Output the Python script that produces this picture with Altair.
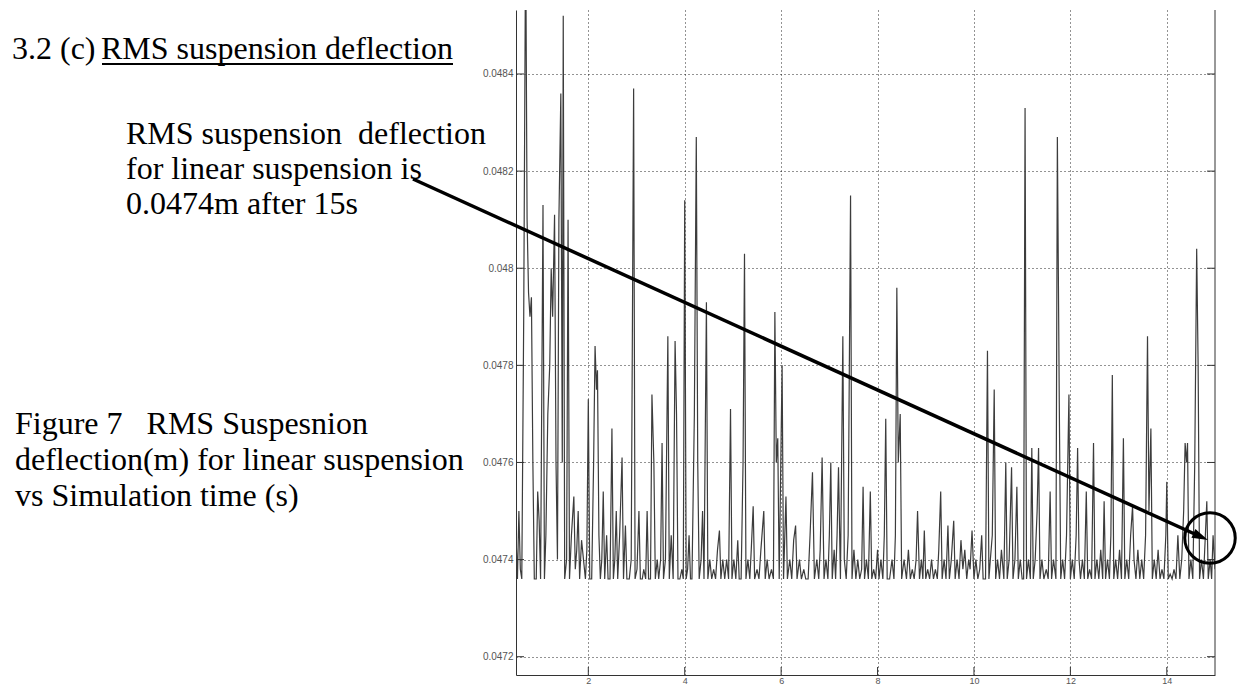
import altair as alt
import pandas as pd

time_s = [
    0.50, 0.53, 0.56, 0.59, 0.62, 0.66, 0.70, 0.73, 0.76, 0.79,
    0.82, 0.85, 0.88, 0.92, 0.95, 0.98, 1.01, 1.06, 1.09, 1.12,
    1.16, 1.20, 1.23, 1.26, 1.30, 1.33, 1.36, 1.39, 1.43, 1.46,
    1.48, 1.51, 1.55, 1.58, 1.61, 1.65, 1.70, 1.73, 1.76, 1.79,
    1.82, 1.86, 1.90, 1.94, 1.97, 2.00, 2.03, 2.07, 2.11, 2.14,
    2.17, 2.19, 2.22, 2.25, 2.28, 2.31, 2.34, 2.38, 2.41, 2.45,
    2.49, 2.52, 2.55, 2.58, 2.61, 2.65, 2.70, 2.73, 2.77, 2.80,
    2.85, 2.89, 2.94, 2.97, 3.01, 3.05, 3.08, 3.12, 3.15, 3.19,
    3.22, 3.25, 3.29, 3.32, 3.36, 3.39, 3.43, 3.46, 3.50, 3.53,
    3.56, 3.60, 3.65, 3.68, 3.72, 3.76, 3.80, 3.83, 3.86, 3.90,
    3.94, 3.97, 4.00, 4.03, 4.06, 4.09, 4.12, 4.15, 4.20, 4.24,
    4.27, 4.30, 4.34, 4.37, 4.40, 4.45, 4.48, 4.52, 4.56, 4.60,
    4.64, 4.68, 4.72, 4.75, 4.79, 4.83, 4.87, 4.91, 4.95, 4.98,
    5.02, 5.06, 5.10, 5.13, 5.17, 5.21, 5.24, 5.27, 5.31, 5.35,
    5.38, 5.42, 5.45, 5.50, 5.54, 5.58, 5.64, 5.67, 5.71, 5.75,
    5.80, 5.84, 5.87, 5.90, 5.93, 5.96, 6.02, 6.05, 6.10, 6.13,
    6.18, 6.22, 6.26, 6.30, 6.33, 6.38, 6.42, 6.47, 6.51, 6.56,
    6.60, 6.65, 6.69, 6.74, 6.78, 6.81, 6.85, 6.89, 6.93, 6.97,
    7.00, 7.03, 7.06, 7.10, 7.13, 7.16, 7.19, 7.23, 7.28, 7.31,
    7.35, 7.39, 7.44, 7.47, 7.51, 7.55, 7.59, 7.63, 7.67, 7.70,
    7.73, 7.77, 7.81, 7.85, 7.88, 7.92, 7.96, 8.00, 8.03, 8.07,
    8.11, 8.14, 8.17, 8.20, 8.25, 8.30, 8.34, 8.37, 8.40, 8.43,
    8.47, 8.50, 8.55, 8.60, 8.64, 8.68, 8.72, 8.76, 8.80, 8.83,
    8.87, 8.91, 8.94, 8.97, 9.00, 9.04, 9.08, 9.12, 9.16, 9.20,
    9.24, 9.27, 9.31, 9.34, 9.38, 9.42, 9.46, 9.49, 9.53, 9.58,
    9.61, 9.65, 9.69, 9.73, 9.77, 9.81, 9.85, 9.89, 9.92, 9.96,
    10.00, 10.04, 10.08, 10.12, 10.16, 10.19, 10.24, 10.28, 10.31, 10.34,
    10.38, 10.42, 10.45, 10.49, 10.53, 10.57, 10.62, 10.66, 10.69, 10.73,
    10.78, 10.81, 10.85, 10.89, 10.92, 10.96, 11.00, 11.03, 11.06, 11.09,
    11.13, 11.17, 11.20, 11.23, 11.27, 11.31, 11.34, 11.37, 11.41, 11.45,
    11.50, 11.54, 11.58, 11.61, 11.65, 11.70, 11.73, 11.77, 11.80, 11.84,
    11.88, 11.92, 11.97, 12.00, 12.04, 12.08, 12.12, 12.15, 12.18, 12.21,
    12.25, 12.29, 12.33, 12.36, 12.40, 12.44, 12.48, 12.51, 12.55, 12.59,
    12.63, 12.67, 12.70, 12.73, 12.77, 12.81, 12.84, 12.87, 12.90, 12.94,
    12.98, 13.02, 13.06, 13.10, 13.13, 13.17, 13.21, 13.25, 13.29, 13.32,
    13.36, 13.40, 13.44, 13.48, 13.52, 13.56, 13.60, 13.63, 13.67, 13.70,
    13.74, 13.78, 13.82, 13.86, 13.90, 13.94, 13.98, 14.00, 14.03, 14.07,
    14.11, 14.15, 14.19, 14.23, 14.27, 14.31, 14.35, 14.38, 14.41, 14.43,
    14.46, 14.50, 14.54, 14.58, 14.62, 14.65, 14.68, 14.72, 14.76, 14.80,
    14.83, 14.86, 14.90, 14.93, 14.96, 15.00,
]

rms_m = [
    0.04745, 0.04736, 0.04750, 0.04738, 0.04736, 0.04790, 0.04870, 0.04810, 0.04795, 0.04790,
    0.04794, 0.04760, 0.04736, 0.04736, 0.04754, 0.04748, 0.04736, 0.04813, 0.04736, 0.04745,
    0.04770, 0.04780, 0.04800, 0.04790, 0.04811, 0.04760, 0.04740, 0.04810, 0.04836, 0.04760,
    0.04852, 0.04736, 0.04740, 0.04810, 0.04736, 0.04745, 0.04753, 0.04738, 0.04742, 0.04750,
    0.04736, 0.04744, 0.04740, 0.04736, 0.04742, 0.04773, 0.04736, 0.04736, 0.04760, 0.04784,
    0.04775, 0.04779, 0.04745, 0.04736, 0.04740, 0.04754, 0.04736, 0.04745, 0.04736, 0.04736,
    0.04767, 0.04736, 0.04740, 0.04750, 0.04736, 0.04745, 0.04761, 0.04736, 0.04747, 0.04736,
    0.04736, 0.04740, 0.04837, 0.04736, 0.04738, 0.04750, 0.04736, 0.04736, 0.04738, 0.04736,
    0.04750, 0.04736, 0.04736, 0.04774, 0.04760, 0.04736, 0.04740, 0.04736, 0.04740, 0.04764,
    0.04736, 0.04740, 0.04786, 0.04736, 0.04745, 0.04736, 0.04785, 0.04770, 0.04736, 0.04736,
    0.04738, 0.04736, 0.04814, 0.04736, 0.04738, 0.04745, 0.04736, 0.04736, 0.04770, 0.04827,
    0.04760, 0.04736, 0.04740, 0.04750, 0.04736, 0.04793, 0.04736, 0.04740, 0.04736, 0.04738,
    0.04736, 0.04742, 0.04746, 0.04736, 0.04740, 0.04736, 0.04740, 0.04736, 0.04771, 0.04736,
    0.04740, 0.04736, 0.04744, 0.04736, 0.04736, 0.04760, 0.04803, 0.04736, 0.04740, 0.04736,
    0.04742, 0.04751, 0.04736, 0.04738, 0.04736, 0.04742, 0.04750, 0.04736, 0.04740, 0.04736,
    0.04738, 0.04736, 0.04791, 0.04760, 0.04765, 0.04736, 0.04780, 0.04736, 0.04753, 0.04736,
    0.04740, 0.04736, 0.04744, 0.04747, 0.04736, 0.04740, 0.04736, 0.04738, 0.04736, 0.04736,
    0.04745, 0.04758, 0.04736, 0.04740, 0.04736, 0.04742, 0.04761, 0.04736, 0.04740, 0.04736,
    0.04745, 0.04760, 0.04736, 0.04742, 0.04736, 0.04745, 0.04759, 0.04736, 0.04786, 0.04740,
    0.04736, 0.04745, 0.04815, 0.04736, 0.04742, 0.04736, 0.04740, 0.04736, 0.04738, 0.04755,
    0.04736, 0.04740, 0.04736, 0.04754, 0.04736, 0.04738, 0.04736, 0.04742, 0.04736, 0.04740,
    0.04736, 0.04745, 0.04769, 0.04736, 0.04736, 0.04740, 0.04736, 0.04745, 0.04796, 0.04760,
    0.04770, 0.04736, 0.04740, 0.04736, 0.04742, 0.04736, 0.04738, 0.04736, 0.04740, 0.04750,
    0.04736, 0.04740, 0.04736, 0.04746, 0.04736, 0.04738, 0.04736, 0.04740, 0.04736, 0.04738,
    0.04736, 0.04742, 0.04754, 0.04736, 0.04740, 0.04736, 0.04747, 0.04736, 0.04740, 0.04748,
    0.04736, 0.04740, 0.04736, 0.04744, 0.04738, 0.04742, 0.04736, 0.04740, 0.04738, 0.04746,
    0.04736, 0.04740, 0.04736, 0.04738, 0.04745, 0.04736, 0.04736, 0.04783, 0.04736, 0.04740,
    0.04745, 0.04775, 0.04736, 0.04740, 0.04736, 0.04742, 0.04736, 0.04760, 0.04736, 0.04740,
    0.04759, 0.04736, 0.04740, 0.04755, 0.04736, 0.04740, 0.04736, 0.04736, 0.04833, 0.04736,
    0.04740, 0.04736, 0.04763, 0.04736, 0.04740, 0.04750, 0.04763, 0.04736, 0.04740, 0.04736,
    0.04738, 0.04736, 0.04754, 0.04736, 0.04740, 0.04736, 0.04827, 0.04772, 0.04736, 0.04740,
    0.04736, 0.04745, 0.04774, 0.04736, 0.04740, 0.04736, 0.04745, 0.04763, 0.04740, 0.04736,
    0.04740, 0.04736, 0.04754, 0.04736, 0.04738, 0.04736, 0.04764, 0.04736, 0.04740, 0.04736,
    0.04742, 0.04736, 0.04752, 0.04736, 0.04740, 0.04736, 0.04745, 0.04778, 0.04736, 0.04740,
    0.04736, 0.04742, 0.04736, 0.04765, 0.04736, 0.04740, 0.04736, 0.04745, 0.04751, 0.04740,
    0.04736, 0.04742, 0.04736, 0.04740, 0.04736, 0.04745, 0.04786, 0.04750, 0.04767, 0.04736,
    0.04740, 0.04736, 0.04742, 0.04736, 0.04738, 0.04736, 0.04745, 0.04756, 0.04736, 0.04737,
    0.04736, 0.04738, 0.04736, 0.04745, 0.04736, 0.04740, 0.04750, 0.04764, 0.04760, 0.04764,
    0.04736, 0.04740, 0.04736, 0.04760, 0.04804, 0.04780, 0.04736, 0.04740, 0.04736, 0.04745,
    0.04752, 0.04736, 0.04740, 0.04736, 0.04745, 0.04738,
]

x_ticks = [2, 4, 6, 8, 10, 12, 14]
y_ticks = [0.0472, 0.0474, 0.0476, 0.0478, 0.048, 0.0482, 0.0484]

section_title = "3.2 (c) "
section_title_ul = "RMS suspension deflection"
note_lines = ["RMS suspension\u00a0 deflection", "for linear suspension is", "0.0474m after 15s"]
caption_lines = ["Figure 7 \u00a0 RMS Suspesnion", "deflection(m) for linear suspension", "vs Simulation time (s)"]

assert len(time_s) == len(rms_m)

W, H = 699, 665
X_DOM = [0.5, 15.0]
Y_DOM = [0.0471623, 0.0485318]
SERIF = "Liberation Serif"
SANS = "Liberation Sans"

df = pd.DataFrame({"t": time_s, "v": rms_m})
xt = pd.DataFrame({"t": x_ticks})
yt = pd.DataFrame({"v": y_ticks})
one = pd.DataFrame({"k": [0]})

xs = alt.Scale(domain=X_DOM, nice=False, zero=False)
ys = alt.Scale(domain=Y_DOM, nice=False, zero=False)

grid_kw = dict(grid=True, gridDash=[1, 3], gridColor="#000", gridOpacity=0.85, gridWidth=1)

line = alt.Chart(df).mark_line(color="#3c3c3c", strokeWidth=1.2, clip=True).encode(
    x=alt.X("t:Q", scale=xs, axis=alt.Axis(
        values=x_ticks, title=None, ticks=False, domain=True, domainColor="#333",
        labelFont=SANS, labelFontSize=9, labelColor="#555", labelPadding=1, **grid_kw)),
    y=alt.Y("v:Q", scale=ys, axis=alt.Axis(
        values=y_ticks, format=".4~f", title=None, ticks=False, domain=True,
        domainColor="#333", labelFont=SANS, labelFontSize=10, labelColor="#555",
        labelPadding=3, **grid_kw)),
)

right_axis = alt.Chart(one).mark_rule(color="#333", strokeWidth=1).encode(
    x=alt.value(W), y=alt.value(0), y2=alt.value(H))

ytick_l = alt.Chart(yt).mark_rule(color="#333").encode(
    y=alt.Y("v:Q", scale=ys), x=alt.value(0), x2=alt.value(8))
ytick_r = alt.Chart(yt).mark_rule(color="#333").encode(
    y=alt.Y("v:Q", scale=ys), x=alt.value(W - 8), x2=alt.value(W))
xtick_b = alt.Chart(xt).mark_rule(color="#333").encode(
    x=alt.X("t:Q", scale=xs), y=alt.value(H - 8), y2=alt.value(H))

ox, oy = 516, 10  # plot origin in page pixels

title_a = alt.Chart(pd.DataFrame({"s": [section_title]})).mark_text(
    font=SERIF, fontSize=32, align="left", baseline="alphabetic", color="#000").encode(
    text="s:N", x=alt.value(12 - ox), y=alt.value(59 - oy))
title_b = alt.Chart(pd.DataFrame({"s": [section_title_ul]})).mark_text(
    font=SERIF, fontSize=32, align="right", baseline="alphabetic", color="#000").encode(
    text="s:N", x=alt.value(453 - ox), y=alt.value(59 - oy))
underline = alt.Chart(one).mark_rule(color="#000", strokeWidth=2).encode(
    x=alt.value(102 - ox), x2=alt.value(453 - ox), y=alt.value(64 - oy), y2=alt.value(64 - oy))

note = alt.Chart(pd.DataFrame({"s": ["\n".join(note_lines)]})).mark_text(
    font=SERIF, fontSize=32, align="left", baseline="alphabetic", color="#000",
    lineBreak="\n", lineHeight=35).encode(
    text="s:N", x=alt.value(126 - ox), y=alt.value(144 - oy))

caption = alt.Chart(pd.DataFrame({"s": ["\n".join(caption_lines)]})).mark_text(
    font=SERIF, fontSize=32, align="left", baseline="alphabetic", color="#000",
    lineBreak="\n", lineHeight=36).encode(
    text="s:N", x=alt.value(15 - ox), y=alt.value(434 - oy))

arrow_line = alt.Chart(one).mark_rule(color="#000", strokeWidth=3.5).encode(
    x=alt.value(413 - ox), y=alt.value(179 - oy),
    x2=alt.value(1198 - ox), y2=alt.value(535.5 - oy))
arrow_head = alt.Chart(one).mark_point(
    shape="M1,0L-1,-0.6L-1,0.6Z", filled=True, color="#000", size=256, angle=24.4, opacity=1).encode(
    x=alt.value(1200.7 - ox), y=alt.value(536.7 - oy))
circle = alt.Chart(one).mark_point(
    shape="circle", filled=False, color="#000", size=2550, strokeWidth=3, opacity=1).encode(
    x=alt.value(1210 - ox), y=alt.value(538 - oy))

chart = alt.layer(
    line, right_axis, ytick_l, ytick_r, xtick_b,
    title_a, title_b, underline, note, caption, arrow_line, arrow_head, circle,
).properties(
    width=W, height=H,
    padding={"left": ox, "top": oy, "right": 1243 - ox - W, "bottom": 686 - oy - H},
    autosize=alt.AutoSizeParams(type="none"),
    background="white",
).configure_view(stroke=None)

chart.save("out.html", embed_options={"renderer": "svg", "actions": False})
